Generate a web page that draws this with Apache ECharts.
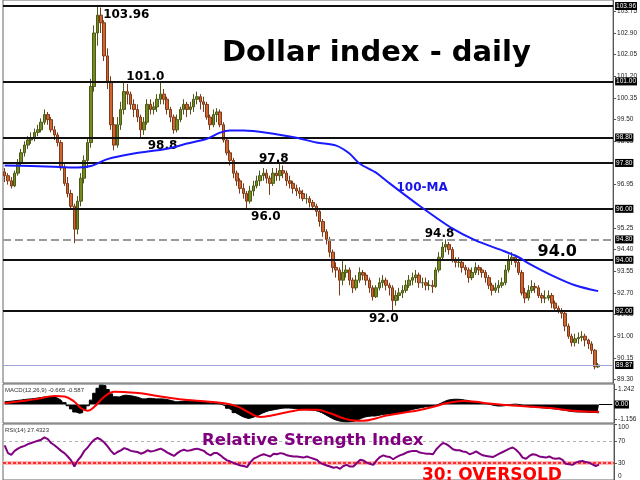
<!DOCTYPE html>
<html>
<head>
<meta charset="utf-8">
<script src="https://cdn.jsdelivr.net/npm/echarts@6/dist/echarts.min.js"></script>
<style>html,body{margin:0;padding:0;background:#fff}#chart{width:640px;height:480px}</style>
</head>
<body>
<div id="chart"></div>
<script>
// Daily candles: [open, close, low, high]
const candles = [
  [97.45,97.30,97.05,97.60],[97.30,97.10,96.95,97.40],[97.10,96.90,96.80,97.25],[96.90,97.40,96.85,97.50],
  [97.40,97.80,97.30,97.95],[97.80,98.20,97.70,98.35],[98.20,98.50,98.05,98.65],[98.50,98.70,98.35,98.85],
  [98.70,98.80,98.55,99.00],[98.80,99.00,98.65,99.15],[99.00,99.10,98.85,99.30],[99.10,99.40,99.00,99.55],
  [99.40,99.70,99.30,99.90],[99.70,99.50,99.30,99.80],[99.50,99.10,99.00,99.60],[99.10,98.90,98.70,99.25],
  [98.90,98.60,98.45,99.00],[98.60,97.60,97.50,98.70],[97.60,97.00,96.90,97.75],[97.00,96.60,96.45,97.25],
  [96.60,96.10,95.95,96.75],[96.10,95.20,94.65,96.20],[95.20,96.30,95.00,96.50],[96.30,97.20,96.10,97.40],
  [97.20,97.90,97.00,98.10],[97.90,98.60,97.60,98.80],[98.60,100.80,98.40,101.10],[100.80,102.90,100.60,103.20],
  [102.90,103.60,102.40,103.96],[103.60,103.30,102.90,103.90],[103.30,102.00,101.80,103.40],[102.00,101.00,100.70,102.30],
  [101.00,99.30,99.10,101.20],[99.30,98.50,98.30,99.60],[98.50,99.30,98.40,99.60],[99.30,99.90,99.10,100.20],
  [99.90,100.60,99.70,101.00],[100.60,100.50,100.10,100.90],[100.50,100.10,99.90,100.60],[100.10,99.90,99.60,100.30],
  [99.90,99.60,99.40,100.10],[99.60,99.10,98.80,99.70],[99.10,99.40,98.90,99.60],[99.40,100.10,99.30,100.30],
  [100.10,99.90,99.70,100.30],[99.90,100.00,99.70,100.20],[100.00,100.30,99.80,100.50],[100.30,100.50,100.10,100.95],
  [100.50,100.30,100.10,100.70],[100.30,99.90,99.70,100.40],[99.90,99.60,99.40,100.00],[99.60,99.10,98.95,99.70],
  [99.10,99.50,99.00,99.70],[99.50,99.90,99.40,100.00],[99.90,100.10,99.70,100.30],[100.10,99.90,99.60,100.20],
  [99.90,100.00,99.70,100.20],[100.00,100.30,99.80,100.50],[100.30,100.40,100.10,100.60],[100.40,100.20,99.90,100.50],
  [100.20,100.10,99.80,100.40],[100.10,99.60,99.50,100.20],[99.60,99.30,99.10,99.70],[99.30,99.70,99.20,99.90],
  [99.70,99.80,99.40,99.95],[99.80,99.30,99.20,99.90],[99.30,98.70,98.60,99.40],[98.70,98.20,98.10,98.80],
  [98.20,97.90,97.70,98.30],[97.90,97.40,97.20,98.00],[97.40,97.10,96.90,97.50],[97.10,96.80,96.60,97.20],
  [96.80,96.60,96.40,97.00],[96.60,96.30,96.00,96.70],[96.30,96.70,96.20,96.90],[96.70,96.90,96.50,97.10],
  [96.90,97.10,96.80,97.30],[97.10,97.30,96.90,97.50],[97.30,97.40,97.10,97.60],[97.40,97.20,97.00,97.55],
  [97.20,97.00,96.55,97.30],[97.00,97.40,96.90,97.60],[97.40,97.30,97.10,97.60],[97.30,97.50,97.10,97.80],
  [97.50,97.40,97.20,97.70],[97.40,97.10,96.90,97.50],[97.10,97.00,96.80,97.30],[97.00,96.80,96.60,97.10],
  [96.80,96.70,96.50,96.95],[96.70,96.60,96.40,96.85],[96.60,96.40,96.30,96.75],[96.40,96.40,96.20,96.60],
  [96.40,96.25,96.05,96.50],[96.25,96.10,95.95,96.35],[96.10,95.90,95.70,96.20],[95.90,95.50,95.30,96.00],
  [95.50,95.10,94.90,95.60],[95.10,94.80,94.60,95.20],[94.80,94.30,94.10,94.90],[94.30,93.70,93.50,94.40],
  [93.70,93.60,93.30,93.90],[93.60,93.20,92.60,93.70],[93.20,93.50,93.00,94.00],[93.50,93.60,93.30,93.80],
  [93.60,93.20,93.00,93.70],[93.20,92.90,92.70,93.30],[92.90,93.20,92.80,93.40],[93.20,93.50,93.10,93.70],
  [93.50,93.40,93.20,93.60],[93.40,93.20,93.00,93.50],[93.20,92.90,92.70,93.30],[92.90,92.55,92.40,93.00],
  [92.55,92.90,92.50,93.00],[92.90,93.10,92.80,93.30],[93.10,93.20,92.90,93.40],[93.20,93.00,92.80,93.30],
  [93.00,92.90,92.60,93.10],[92.90,92.40,92.00,93.00],[92.40,92.60,92.20,92.80],[92.60,92.70,92.40,92.90],
  [92.70,92.80,92.50,93.00],[92.80,93.00,92.70,93.20],[93.00,93.20,92.90,93.40],[93.20,93.30,93.00,93.50],
  [93.30,93.40,93.10,93.60],[93.40,93.10,92.90,93.50],[93.10,93.10,92.90,93.30],[93.10,93.00,92.80,93.30],
  [93.00,93.00,92.80,93.20],[93.00,92.95,92.70,93.20],[92.95,93.60,92.90,93.70],[93.60,94.10,93.50,94.30],
  [94.10,94.50,94.00,94.70],[94.50,94.60,94.30,94.80],[94.60,94.40,94.20,94.70],[94.40,94.00,93.90,94.50],
  [94.00,93.90,93.70,94.10],[93.90,93.90,93.70,94.10],[93.90,93.70,93.50,94.00],[93.70,93.60,93.40,93.80],
  [93.60,93.30,93.10,93.70],[93.30,93.50,93.20,93.70],[93.50,93.70,93.40,93.90],[93.70,93.60,93.40,93.80],
  [93.60,93.50,93.30,93.70],[93.50,93.30,93.10,93.60],[93.30,93.00,92.85,93.40],[93.00,92.80,92.60,93.10],
  [92.80,92.90,92.70,93.10],[92.90,93.00,92.70,93.20],[93.00,93.10,92.90,93.30],[93.10,93.60,93.00,93.80],
  [93.60,94.00,93.50,94.20],[94.00,94.10,93.80,94.30],[94.10,93.90,93.70,94.20],[93.90,93.50,93.40,94.00],
  [93.50,92.70,92.60,93.60],[92.70,92.50,92.30,92.90],[92.50,92.80,92.40,93.00],[92.80,92.95,92.70,93.20],
  [92.95,92.90,92.70,93.10],[92.90,92.60,92.50,93.00],[92.60,92.50,92.30,92.70],[92.50,92.50,92.30,92.80],
  [92.50,92.60,92.40,92.80],[92.60,92.30,92.10,92.70],[92.30,92.10,92.00,92.40],[92.10,92.00,91.90,92.20],
  [92.00,91.90,91.70,92.10],[91.90,91.40,91.20,92.00],[91.40,91.00,90.90,91.50],[91.00,90.75,90.60,91.10],
  [90.75,90.90,90.60,91.10],[90.90,90.95,90.70,91.15],[90.95,91.00,90.80,91.20],[91.00,90.85,90.60,91.10],
  [90.85,90.70,90.50,90.90],[90.70,90.45,90.30,90.80],[90.45,89.80,89.70,90.50],[89.80,89.87,89.75,89.95]
];

// one slot per trading day, plus 4 empty slots of chart shift on the right
const slotCount = 184;
const slots = Array.from({ length: slotCount }, (_, i) => 'd' + (i + 1));

// 100-day moving average: [candle index, value]
const ma100 = [
  [0,97.70],[8,97.68],[17,97.64],[22,97.62],[26,97.68],[31,97.95],[39,98.17],[49,98.36],
  [55,98.56],[61,98.75],[65,98.99],[68,99.07],[72,99.07],[79,98.99],[88,98.79],[94,98.60],
  [100,98.48],[104,98.17],[107,97.78],[112,97.42],[115,97.11],[125,96.13],[135,95.23],
  [142,94.76],[150,94.37],[155,94.10],[158,93.86],[165,93.39],[172,93.00],[179,92.77]
];

// MACD(12,26,9) main values (histogram)
const macdMain = [
  0.22,0.24,0.27,0.30,0.33,0.36,0.40,0.43,0.45,0.48,0.52,0.56,0.60,0.64,0.64,0.60,
  0.50,0.35,0.15,-0.10,-0.35,-0.60,-0.70,-0.65,-0.40,-0.10,0.35,0.90,1.30,1.55,1.50,
  1.20,0.85,0.62,0.60,0.70,0.75,0.72,0.68,0.62,0.55,0.45,0.45,0.50,0.48,0.45,
  0.45,0.45,0.42,0.36,0.30,0.22,0.22,0.26,0.28,0.26,0.26,0.28,0.28,0.25,0.22,
  0.15,0.08,0.08,0.07,0.00,-0.12,-0.30,-0.45,-0.65,-0.80,-0.95,-1.05,-1.12,-1.05,-0.95,
  -0.85,-0.70,-0.60,-0.50,-0.45,-0.40,-0.35,-0.30,-0.28,-0.28,-0.30,-0.32,-0.35,-0.38,-0.40,
  -0.42,-0.45,-0.48,-0.55,-0.65,-0.80,-0.95,-1.10,-1.22,-1.30,-1.35,-1.38,-1.38,-1.36,-1.32,
  -1.22,-1.10,-1.00,-0.95,-0.92,-0.92,-0.88,-0.82,-0.78,-0.76,-0.76,-0.78,-0.72,-0.66,-0.58,
  -0.50,-0.42,-0.35,-0.30,-0.25,-0.20,-0.16,-0.14,-0.10,0.00,0.12,0.25,0.35,0.40,0.42,
  0.42,0.40,0.36,0.32,0.25,0.20,0.18,0.15,0.10,0.05,-0.02,-0.08,-0.12,-0.12,-0.10,
  -0.05,0.00,0.03,0.02,-0.03,-0.10,-0.16,-0.20,-0.20,-0.22,-0.25,-0.28,-0.30,-0.32,-0.35,
  -0.38,-0.42,-0.45,-0.50,-0.55,-0.58,-0.60,-0.60,-0.60,-0.62,-0.63,-0.64,-0.65,-0.665
];

// MACD signal line: [candle index, value]
const macdSignal = [
  [0,0.10],[6,0.30],[10,0.45],[15,0.68],[18,0.64],[21,0.22],[23,-0.30],[25,-0.50],[27,-0.18],
  [30,0.62],[33,1.02],[36,1.00],[41,0.90],[45,0.72],[50,0.52],[55,0.36],[60,0.26],[65,0.14],
  [70,-0.15],[74,-0.70],[77,-1.00],[80,-0.90],[85,-0.62],[90,-0.42],[94,-0.42],[98,-0.70],
  [102,-1.10],[105,-1.28],[108,-1.30],[112,-1.10],[115,-0.88],[120,-0.66],[125,-0.44],
  [130,-0.12],[133,0.10],[138,0.28],[142,0.22],[145,0.10],[151,-0.04],[159,-0.18],
  [165,-0.30],[171,-0.50],[179,-0.587]
];

// RSI(14)
const rsi14 = [
  62,48,45,52,56,59,61,64,66,68, 70,72,76,73,66,62,57,52,48,42,
  35,24,35,42,52,58,66,72,75,72, 67,60,52,46,50,53,57,55,52,51,
  50,47,49,53,51,52,54,56,53,49, 46,43,48,52,54,52,53,55,56,54,
  52,47,44,48,48,44,39,35,33,30, 28,26,25,23,32,38,41,44,46,44,
  42,47,46,48,47,44,43,42,42,41, 40,42,40,38,36,31,28,26,24,22,
  23,20,25,27,24,24,30,36,35,31, 29,27,35,41,44,42,41,37,41,44,
  46,49,51,52,52,49,48,47,47,46, 55,61,66,64,60,55,53,53,51,50,
  46,48,51,47,44,43,42,41,44,47, 50,53,56,58,54,48,40,38,43,46,
  45,42,41,40,42,39,38,39,36,29, 28,27,31,33,34,32,31,28,25,27.4323
];

// horizontal support / resistance levels
const keyLevels = [103.96, 101.0, 98.8, 97.8, 96.0, 94.0, 92.0];
const pivotLevel = 94.8;
const lastPrice = 89.87;
const macdZero = 0;
const rsiOverbought = 70;
const rsiOversold = 30;

// axis tick values
const priceTicks = [89.30, 90.15, 91.00, 91.85, 92.70, 93.55, 94.40, 95.25, 96.95,
                    98.65, 99.50, 100.35, 101.20, 102.05, 102.90, 103.75];
const macdTicks = [1.242, -1.156];
const rsiTicks = [0, 30, 70, 100];

// level captions on the price panel
const levelNotes = [
  { idx: 30,  value: 103.96, digits: 2, size: 12, dx: -1.5, dy: 9 },
  { idx: 37,  value: 101.0,  digits: 1, size: 12, dx: -1.5, dy: -5 },
  { idx: 43,  value: 98.8,   digits: 1, size: 12, dx: 0,    dy: 8 },
  { idx: 77,  value: 97.8,   digits: 1, size: 12, dx: -1.5, dy: -4.5 },
  { idx: 74,  value: 96.0,   digits: 1, size: 12, dx: 0.5,  dy: 8 },
  { idx: 127, value: 94.8,   digits: 1, size: 12, dx: -1.5, dy: -6 },
  { idx: 161, value: 94.0,   digits: 1, size: 16, dx: -1.5, dy: -7.5 },
  { idx: 110, value: 92.0,   digits: 1, size: 12, dx: -1,   dy: 8 }
];

const BOLD = '"DejaVu Sans", Verdana, sans-serif';
const SMALL = '"Liberation Sans", Arial, sans-serif';

const tag = (text) => ({
  show: true, position: 'end', distance: 2, formatter: text,
  color: '#fff', backgroundColor: '#000', fontSize: 6.5, fontFamily: SMALL,
  padding: [1, 1, 0, 1], lineHeight: 7
});

const axisLabelBase = { fontSize: 6.5, color: '#222', fontFamily: SMALL, margin: 4 };
const axisLineBase = { show: true, lineStyle: { color: '#555', width: 1 } };

const levelLines = keyLevels.map(v => ({
  yAxis: v, lineStyle: { color: '#111', width: 2, type: 'solid' }, label: tag(v.toFixed(2))
}));
levelLines.push({ yAxis: pivotLevel, lineStyle: { color: '#9a9a9a', width: 2, type: [8, 4] }, label: tag(pivotLevel.toFixed(2)) });
levelLines.push({ yAxis: lastPrice, lineStyle: { color: '#9ea4d6', width: 1, type: 'solid' }, label: tag(lastPrice.toFixed(2)) });

const hiddenPoint = { symbol: 'circle', symbolSize: 1, itemStyle: { color: 'rgba(0,0,0,0)' }, silent: true, animation: false };

const chart = echarts.init(document.getElementById('chart'), null, { renderer: 'canvas' });

chart.setOption({
  animation: false,
  backgroundColor: '#fff',
  grid: [
    { left: 3, width: 611, top: -1, height: 384, show: true, borderColor: '#666', borderWidth: 1, backgroundColor: 'transparent' },
    { left: 3, width: 611, top: 384, height: 39, show: true, borderColor: '#666', borderWidth: 1, backgroundColor: 'transparent' },
    { left: 3, width: 611, top: 424, height: 60, show: true, borderColor: '#666', borderWidth: 1, backgroundColor: 'transparent' }
  ],
  xAxis: [0, 1, 2].map(g => ({ type: 'category', gridIndex: g, data: slots, show: false, boundaryGap: true })),
  yAxis: [
    {
      gridIndex: 0, position: 'right', min: 89.165, max: 104.195,
      axisLine: axisLineBase,
      axisTick: { show: true, length: 3, lineStyle: { color: '#555' }, customValues: priceTicks },
      axisLabel: Object.assign({}, axisLabelBase, { customValues: priceTicks, formatter: v => v.toFixed(2) }),
      splitLine: { show: false }
    },
    {
      gridIndex: 1, position: 'right', min: -1.48, max: 1.64,
      axisLine: axisLineBase,
      axisTick: { show: true, length: 3, lineStyle: { color: '#555' }, customValues: macdTicks },
      axisLabel: Object.assign({}, axisLabelBase, { customValues: macdTicks, formatter: v => v.toFixed(3) }),
      splitLine: { show: false }
    },
    {
      gridIndex: 2, position: 'right', min: 0, max: 100,
      axisLine: axisLineBase,
      axisTick: { show: true, length: 3, lineStyle: { color: '#555' }, customValues: rsiTicks },
      axisLabel: Object.assign({}, axisLabelBase, {
        customValues: rsiTicks, formatter: v => String(v),
        verticalAlignMinLabel: 'bottom', verticalAlignMaxLabel: 'top'
      }),
      splitLine: { show: false }
    }
  ],
  series: [
    {
      type: 'candlestick', xAxisIndex: 0, yAxisIndex: 0, data: candles, barWidth: 3,
      itemStyle: { color: '#768a22', color0: '#cf6530', borderColor: '#4c5a18', borderColor0: '#7e3a18', borderWidth: 1 },
      markLine: { symbol: 'none', silent: true, animation: false, data: levelLines },
      markPoint: Object.assign({}, hiddenPoint, {
        data: levelNotes.map(n => ({
          coord: [slots[n.idx], n.value],
          label: {
            show: true, position: 'right', distance: 0, offset: [n.dx, n.dy],
            formatter: n.value.toFixed(n.digits), fontSize: n.size, fontWeight: 'bold',
            fontFamily: BOLD, color: '#000'
          }
        }))
      })
    },
    {
      type: 'line', xAxisIndex: 0, yAxisIndex: 0, z: 5,
      data: ma100.map(([i, v]) => [slots[i], v]),
      smooth: 0.3, showSymbol: false, lineStyle: { color: '#1a1aff', width: 2 },
      markPoint: Object.assign({}, hiddenPoint, {
        data: [{
          coord: [slots[115], ma100[20][1]],
          label: {
            show: true, position: 'right', distance: 0, offset: [10, 7],
            formatter: '100-MA', fontSize: 12, fontWeight: 'bold', fontFamily: BOLD, color: '#1515e8'
          }
        }]
      })
    },
    {
      // MACD histogram as a solid stepped area from the zero line
      type: 'line', xAxisIndex: 1, yAxisIndex: 1, data: macdMain, step: 'middle',
      showSymbol: false, lineStyle: { color: '#000', width: 1 },
      areaStyle: { color: '#000', opacity: 1, origin: 0 },
      markLine: {
        symbol: 'none', silent: true, animation: false,
        lineStyle: { color: '#000', width: 1, type: 'solid' },
        label: tag(macdZero.toFixed(2)),
        data: [[{ coord: [slots[179], macdZero] }, { coord: [slots[183], macdZero] }]]
      }
    },
    {
      type: 'line', xAxisIndex: 1, yAxisIndex: 1, z: 5,
      data: macdSignal.map(([i, v]) => [slots[i], v]),
      smooth: 0.4, showSymbol: false, lineStyle: { color: '#ff0000', width: 2 }
    },
    {
      type: 'line', xAxisIndex: 2, yAxisIndex: 2, data: rsi14, z: 5,
      showSymbol: false, lineStyle: { color: '#800080', width: 2 },
      markLine: {
        symbol: 'none', silent: true, animation: false, label: { show: false },
        data: [
          { yAxis: rsiOverbought, lineStyle: { color: '#b4b4b4', width: 1, type: [3, 3] } },
          { yAxis: rsiOversold, lineStyle: { color: '#ffb8b8', width: 4, type: 'solid' } },
          { yAxis: rsiOversold, lineStyle: { color: '#ff0000', width: 1.5, type: [3, 2] } }
        ]
      }
    }
  ],
  graphic: [
    { type: 'text', x: 222, y: 53, style: { text: 'Dollar index - daily', font: 'bold 29px "DejaVu Sans"', fill: '#000', verticalAlign: 'middle', align: 'left' } },
    { type: 'text', x: 202, y: 441, z: 10, style: { text: 'Relative Strength Index', font: 'bold 16.5px "DejaVu Sans"', fill: '#800080', verticalAlign: 'middle', align: 'left' } },
    { type: 'text', x: 422, y: 476, z: 10, style: { text: rsiOversold + ': OVERSOLD', font: 'bold 17px "DejaVu Sans"', fill: '#ff0000', verticalAlign: 'middle', align: 'left' } },
    { type: 'text', x: 5, y: 390, z: 10, style: {
        text: 'MACD(12,26,9) ' + macdMain[macdMain.length - 1].toFixed(3) + ' ' + macdSignal[macdSignal.length - 1][1].toFixed(3),
        font: '6px "Liberation Sans"', fill: '#333', verticalAlign: 'middle', align: 'left' } },
    { type: 'text', x: 5, y: 430, z: 10, style: {
        text: 'RSI(14) ' + rsi14[rsi14.length - 1].toFixed(4),
        font: '6px "Liberation Sans"', fill: '#333', verticalAlign: 'middle', align: 'left' } }
  ]
});
</script>
</body>
</html>
